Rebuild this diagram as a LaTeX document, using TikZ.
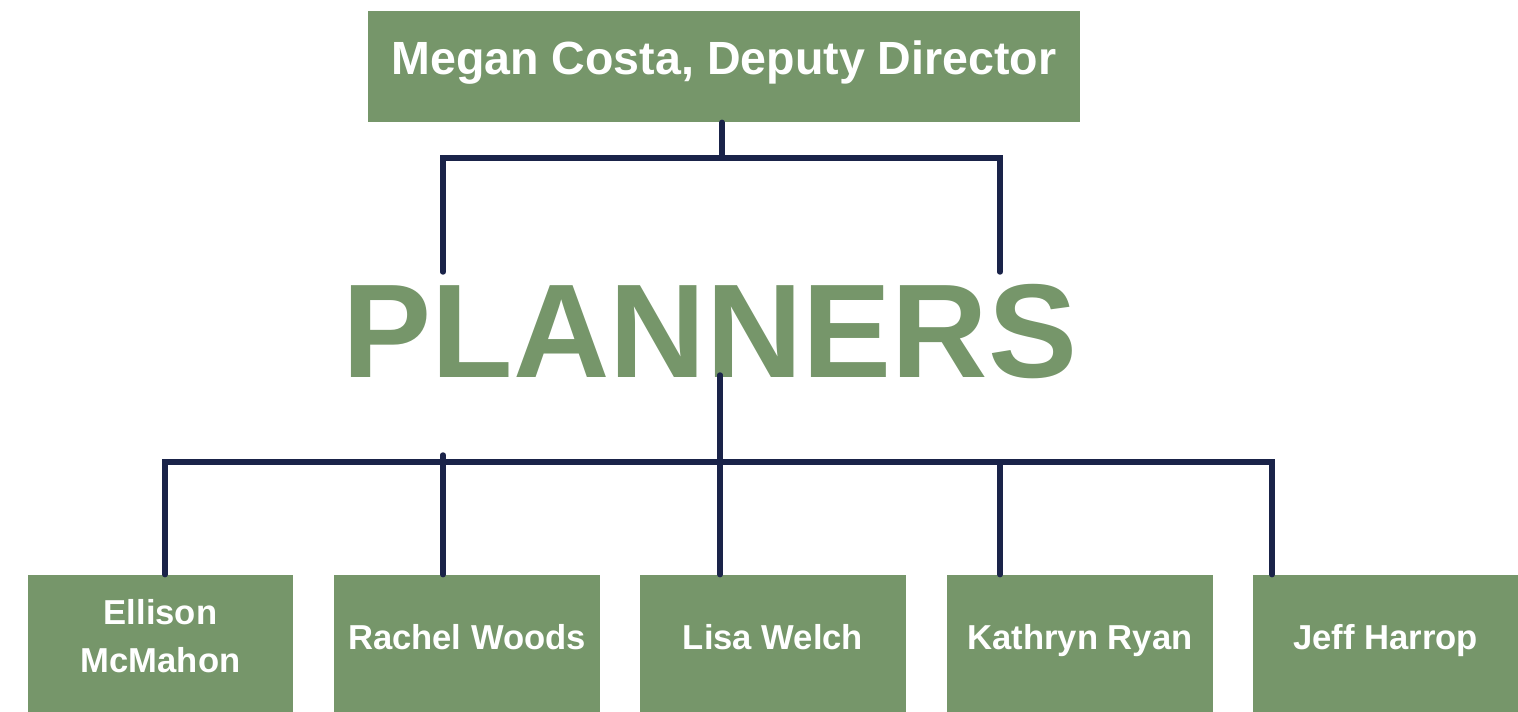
\documentclass[tikz,border=0pt]{standalone}
\usepackage{fontspec}
\setmainfont{Liberation Sans}
\usetikzlibrary{positioning}
\definecolor{sage}{HTML}{76966A}
\definecolor{navy}{HTML}{1A2349}

\begin{document}
\begin{tikzpicture}[x=0.02cm,y=-0.02cm,
	box/.style={fill=sage, text=white, font=\bfseries\fontsize{19.7}{27.3}\selectfont, align=center, inner sep=0pt, minimum width=5.32cm, minimum height=2.74cm, text height=14.1pt, text depth=6.8pt},
	link/.style={draw=navy, line width=3.1pt, line cap=round}]
	\useasboundingbox (0,0) rectangle (1518,712);
	% boxes
	\node[box, minimum width=14.24cm, minimum height=2.22cm, font=\bfseries\fontsize{26.5}{30}\selectfont, text height=19pt, text depth=10pt] (director) at (724,66.5) {Megan Costa, Deputy Director};
	\node[anchor=base, text=sage, font=\bfseries\fontsize{76}{80}\selectfont, inner sep=0pt] (planners) at (710,378) {PLANNERS};
	\node[box, text height=41.4pt, text depth=8.6pt] (ellison) at (160.5,643.5) {Ellison\\McMahon};
	\node[box] (rachel) at (467,643.5) {Rachel Woods};
	\node[box] (lisa) at (773,643.5) {Lisa Welch};
	\node[box] (kathryn) at (1080,643.5) {Kathryn Ryan};
	\node[box] (jeff) at (1385.5,643.5) {Jeff Harrop};
	% free ends
	\coordinate (topjoin) at (722,158);
	\coordinate (pl) at (443,272);
	\coordinate (pr) at (1000,272);
	\coordinate (pbottom) at (720,375);
	\coordinate (d1) at (165,462);
	\coordinate (d2) at (443,455);
	\coordinate (d4) at (1000,462);
	\coordinate (d5) at (1272,462);
	% connectors
	\draw[link] (topjoin |- director.south) -- (topjoin);
	\draw[link] (pl) |- (topjoin) -| (pr);
	\draw[link] (pbottom) -- (pbottom |- lisa.north);
	\draw[link] (d1 |- ellison.north) -- (d1) -- (d5) -- (d5 |- jeff.north);
	\draw[link] (d2) -- (d2 |- rachel.north);
	\draw[link] (d4) -- (d4 |- kathryn.north);
\end{tikzpicture}
\end{document}
